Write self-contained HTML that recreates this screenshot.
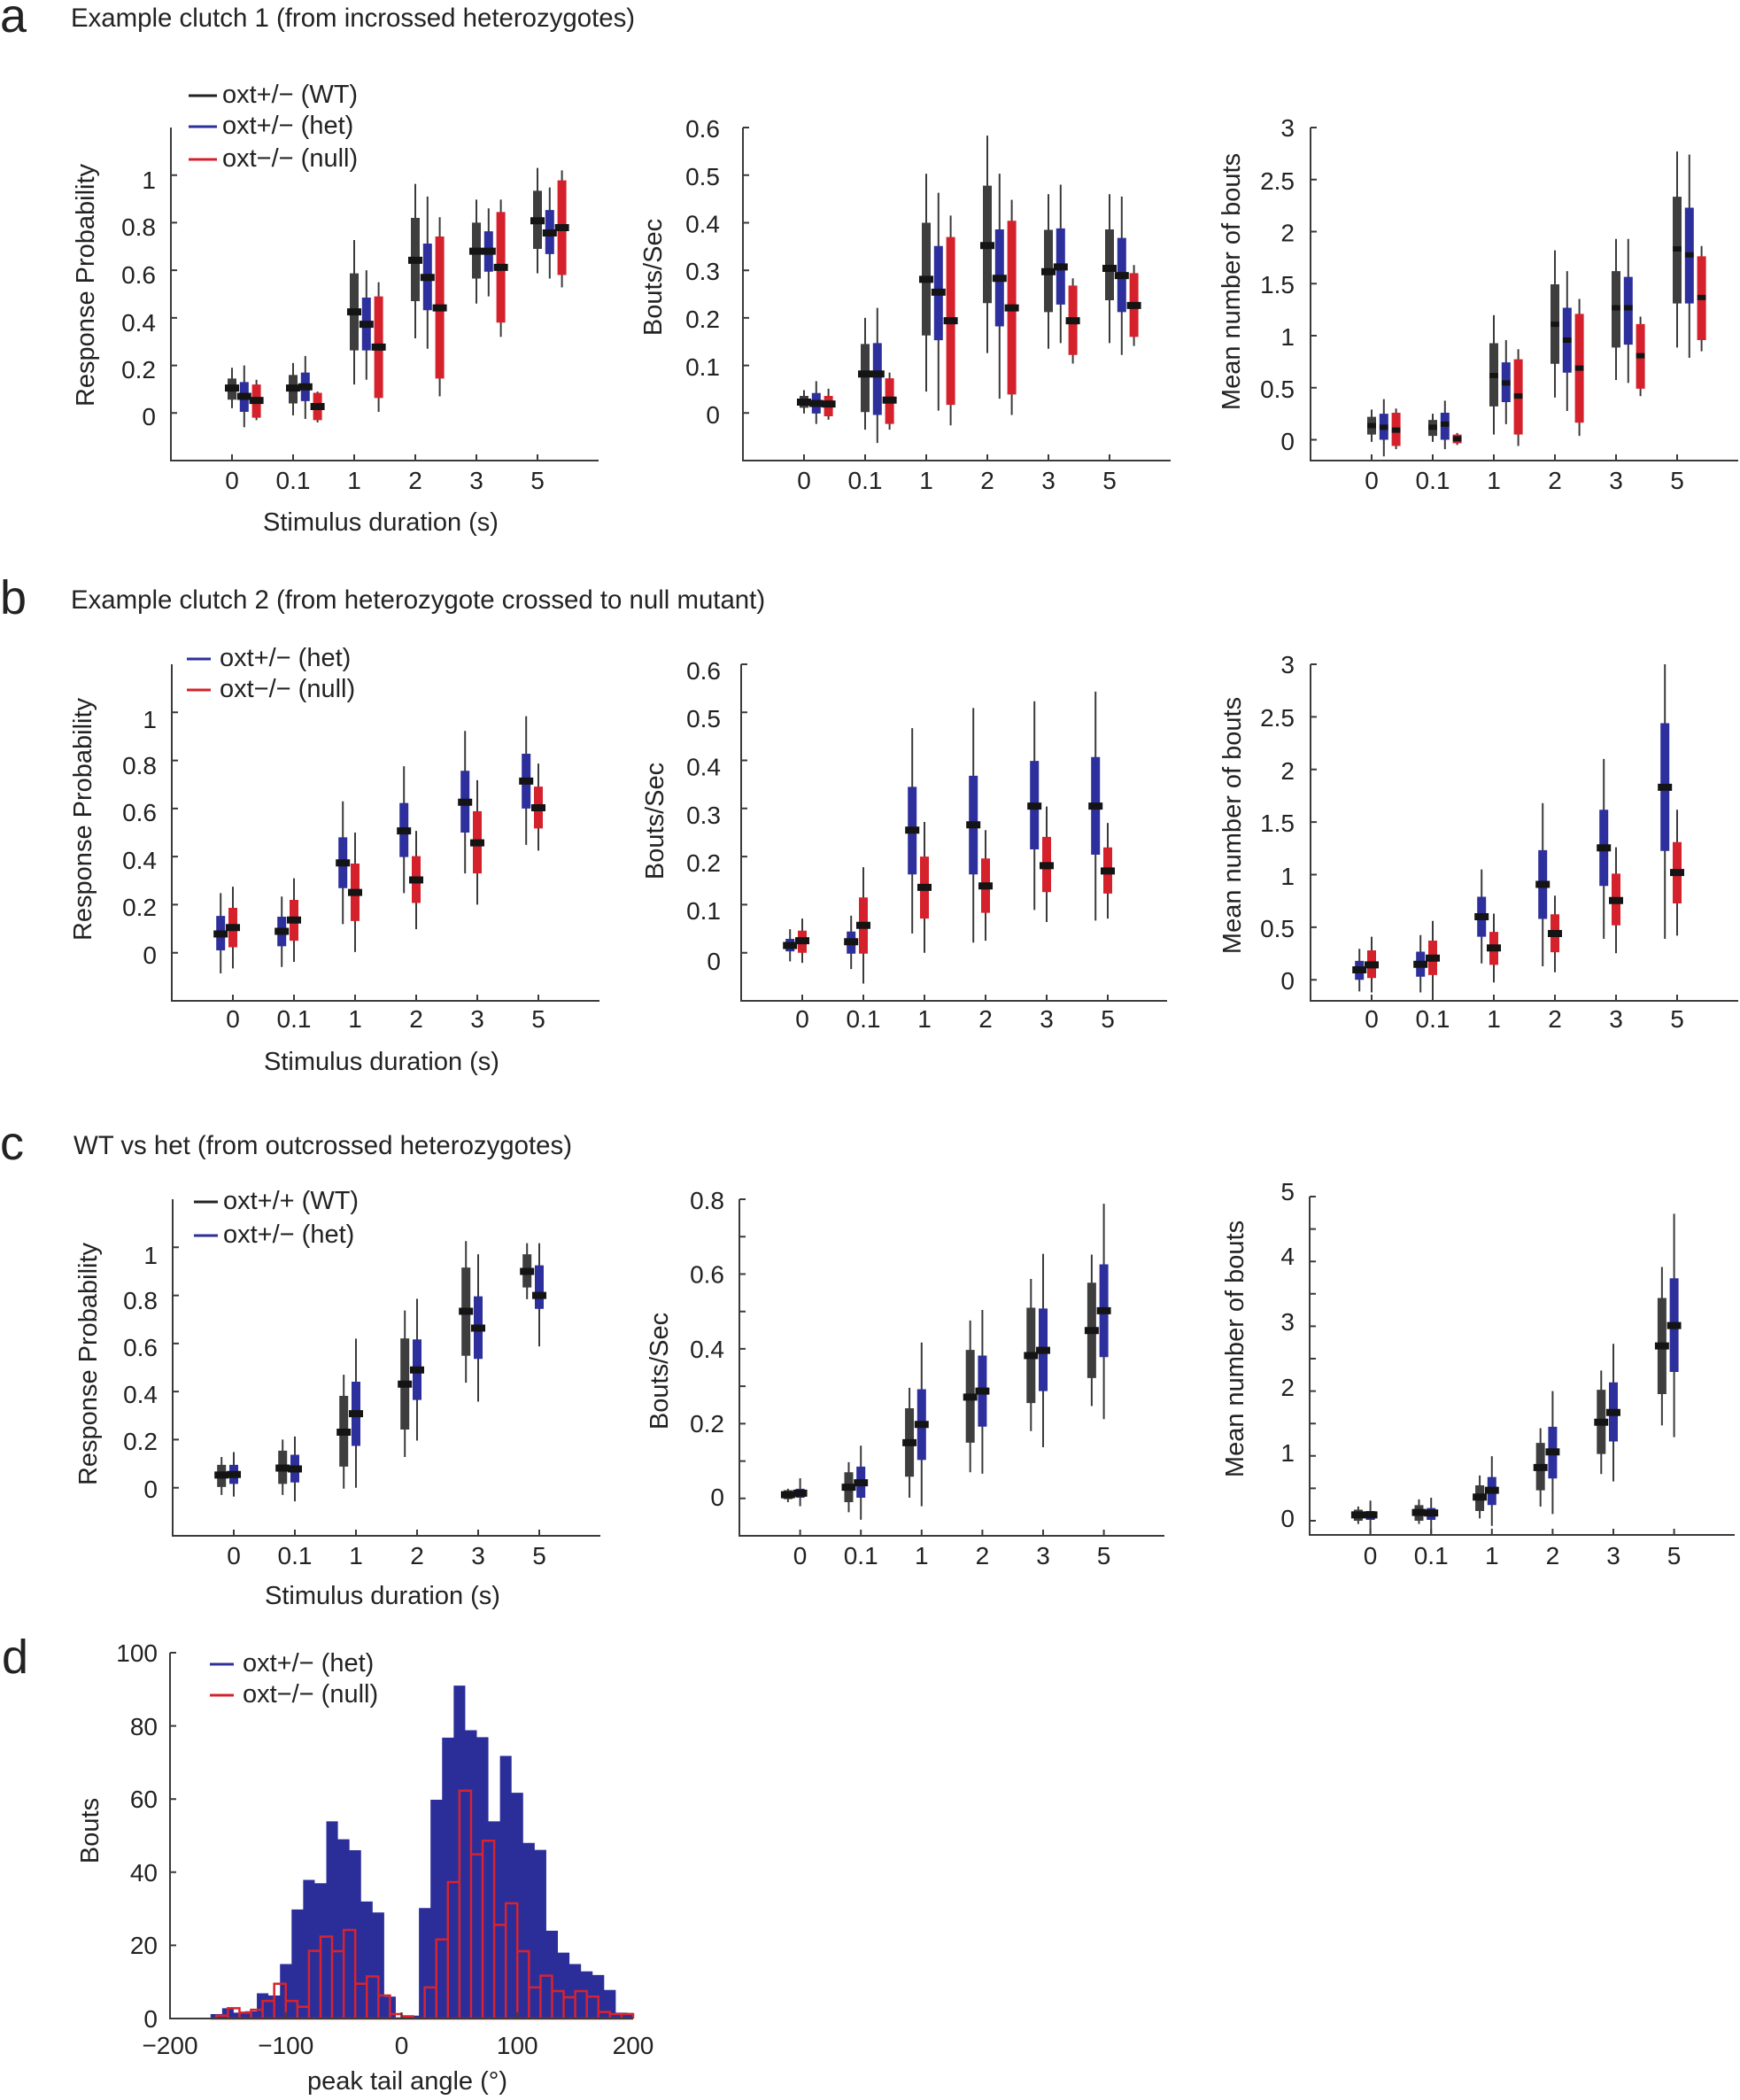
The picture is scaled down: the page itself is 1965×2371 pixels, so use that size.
<!DOCTYPE html>
<html><head><meta charset="utf-8"><style>
html,body{margin:0;padding:0;background:#fff;}
svg{display:block}
text{font-family:"Liberation Sans",Arial,sans-serif;fill:#222}
.t{font-size:29px}
.tt{font-size:29.4px}
.k{font-size:28px}
.ax{fill:none;stroke:#3a3a3a;stroke-width:2}
.dd path{vector-effect:non-scaling-stroke;fill:none}
.w{stroke:#3a3a3a;stroke-width:2}
.K{stroke:#3e3e3e;stroke-width:10}
.B{stroke:#2c2f9c;stroke-width:10}
.R{stroke:#d5212c;stroke-width:10}
.m{stroke:#141414;stroke-width:8}
.ms{stroke:#141414;stroke-width:6}
</style></head><body>
<svg width="1965" height="2371" viewBox="0 0 1965 2371" xmlns="http://www.w3.org/2000/svg">
<rect width="1965" height="2371" fill="#fff"/>

<!-- ================= PANEL A ================= -->
<text x="0" y="36" font-size="54">a</text>
<text class="tt" x="80" y="30">Example clutch 1 (from incrossed heterozygotes)</text>
<line x1="213" y1="108" x2="245" y2="108" stroke="#222" stroke-width="3"/>
<line x1="213" y1="143" x2="245" y2="143" stroke="#2c2f9c" stroke-width="3"/>
<line x1="213" y1="180" x2="245" y2="180" stroke="#d5212c" stroke-width="3"/>
<text class="t" x="251" y="116">oxt+/− (WT)</text>
<text class="t" x="251" y="151">oxt+/− (het)</text>
<text class="t" x="251" y="188">oxt−/− (null)</text>

<!-- aL -->
<g class="dd" transform="translate(193,466.3) scale(69,-268.6)">
<path class="w" d="M1 .02V.19M1.2 -.06V.2M1.4 -.03V.14M2 -.01V.21M2.2 -.025V.24M2.4 -.04V.09M3 .12V.727M3.2 .14V.6M3.4 .005V.55M4 .314V.963M4.2 .27V.91M4.4 .07V.823M5 .46V.897M5.2 .49V.86M5.4 .32V.897M6 .587V1.03M6.2 .565V.948M6.4 .528V1.02"/>
<path class="K" d="M1 .056V.145M2 .04V.16M3 .263V.587M4 .47V.82M5 .565V.8M6 .69V.934"/>
<path class="B" d="M1.2 .005V.13M2.2 .05V.17M3.2 .263V.485M4.2 .432V.712M5.2 .594V.764M6.2 .668V.853"/>
<path class="R" d="M1.4 -.02V.12M2.4 -.03V.085M3.4 .063V.49M4.4 .145V.742M5.4 .38V.845M6.4 .58V.978"/>
<path class="m" d="M.884 .105H1.116M1.084 .07H1.316M1.284 .053H1.516M1.884 .105H2.116M2.084 .11H2.316M2.284 .027H2.516M2.884 .425H3.116M3.084 .373H3.316M3.284 .277H3.516M3.884 .642H4.116M4.084 .57H4.316M4.284 .442H4.516M4.884 .68H5.116M5.084 .68H5.316M5.284 .612H5.516M5.884 .808H6.116M6.084 .757H6.316M6.284 .779H6.516"/>
</g>
<path class="ax" d="M193 144V520H676"/>
<path class="ax" d="M193 466.3h7M193 412.6h7M193 358.9h7M193 305.1h7M193 251.4h7M193 197.7h7M262 520v-7M331 520v-7M400 520v-7M469 520v-7M538 520v-7M607 520v-7"/>
<g class="k" text-anchor="end">
<text x="176" y="480">0</text><text x="176" y="427">0.2</text><text x="176" y="374">0.4</text><text x="176" y="320">0.6</text><text x="176" y="266">0.8</text><text x="176" y="213">1</text>
</g>
<g class="k" text-anchor="middle">
<text x="262" y="552">0</text><text x="331" y="552">0.1</text><text x="400" y="552">1</text><text x="469" y="552">2</text><text x="538" y="552">3</text><text x="607" y="552">5</text>
</g>
<text class="t" x="430" y="599" text-anchor="middle">Stimulus duration (s)</text>
<text class="t" transform="translate(106,322) rotate(-90)" text-anchor="middle">Response Probability</text>

<!-- aM -->
<g class="dd" transform="translate(839,466.3) scale(69,-537.1)">
<path class="w" d="M1 -.001V.048M1.2 -.023V.067M1.4 -.014V.051M2 -.035V.2M2.2 -.063V.221M2.4 -.035V.085M3 .045V.503M3.2 .005V.463M3.4 -.026V.415M4 .126V.583M4.2 .03V.503M4.4 -.004V.448M5 .135V.46M5.2 .147V.48M5.4 .104V.283M6 .147V.46M6.2 .122V.455M6.4 .141V.311"/>
<path class="K" d="M1 .011V.036M2 .002V.145M3 .163V.4M4 .231V.478M5 .212V.385M6 .237V.386"/>
<path class="B" d="M1.2 -.001V.042M2.2 -.004V.147M3.2 .153V.351M4.2 .182V.386M5.2 .228V.388M6.2 .212V.368"/>
<path class="R" d="M1.4 -.007V.036M2.4 -.023V.073M3.4 .017V.37M4.4 .039V.404M5.4 .122V.268M6.4 .16V.294"/>
<path class="m" d="M.884 .023H1.116M1.084 .02H1.316M1.284 .019H1.516M1.884 .082H2.116M2.084 .082H2.316M2.284 .027H2.516M2.884 .281H3.116M3.084 .254H3.316M3.284 .194H3.516M3.884 .352H4.116M4.084 .283H4.316M4.284 .221H4.516M4.884 .297H5.116M5.084 .307H5.316M5.284 .194H5.516M5.884 .304H6.116M6.084 .289H6.316M6.284 .226H6.516"/>
</g>
<path class="ax" d="M839 144V520H1322"/>
<path class="ax" d="M839 466.3h7M839 412.6h7M839 358.9h7M839 305.2h7M839 251.5h7M839 197.7h7M839 144h7M908 520v-7M977 520v-7M1046 520v-7M1115 520v-7M1184 520v-7M1253 520v-7"/>
<g class="k" text-anchor="end">
<text x="813" y="478">0</text><text x="813" y="424">0.1</text><text x="813" y="370">0.2</text><text x="813" y="316">0.3</text><text x="813" y="262.5">0.4</text><text x="813" y="209">0.5</text><text x="813" y="155">0.6</text>
</g>
<g class="k" text-anchor="middle">
<text x="908" y="552">0</text><text x="977" y="552">0.1</text><text x="1046" y="552">1</text><text x="1115" y="552">2</text><text x="1184" y="552">3</text><text x="1253" y="552">5</text>
</g>
<text class="t" transform="translate(747,313) rotate(-90)" text-anchor="middle">Bouts/Sec</text>

<!-- aR -->
<g class="dd" transform="translate(1480,496.5) scale(69,-117.5)">
<path class="w" d="M1 -.02V.29M1.2 -.16V.39M1.4 -.09V.3M2 -.02V.25M2.2 -.09V.376M2.4 -.05V.065M3 .05V1.197M3.2 .15V.957M3.4 -.06V.87M4 .405V1.82M4.2 .277V1.62M4.4 .037V1.353M5 .575V1.93M5.2 .546V1.93M5.4 .419V1.183M6 .886V2.77M6.2 .787V2.74M6.4 .85V1.862"/>
<path class="K" d="M1 .05V.22M2 .037V.19M3 .32V.928M4 .73V1.494M5 .886V1.62M6 1.31V2.335"/>
<path class="B" d="M1.2 0V.25M2.2 0V.26M3.2 .362V.744M4.2 .645V1.268M5.2 .914V1.565M6.2 1.31V2.23"/>
<path class="R" d="M1.4 -.06V.26M2.4 -.034V.05M3.4 .05V.773M4.4 .164V1.21M5.4 .49V1.112M6.4 .957V1.763"/>
<path class="ms" d="M.93 .136H1.07M1.13 .12H1.27M1.33 .093H1.47M1.93 .12H2.07M2.13 .15H2.27M2.33 .01H2.47M2.93 .617H3.07M3.13 .546H3.27M3.33 .42H3.47M3.93 1.11H4.07M4.13 .957H4.27M4.33 .688H4.47M4.93 1.268H5.07M5.13 1.268H5.27M5.33 .807H5.47M5.93 1.834H6.07M6.13 1.777H6.27M6.33 1.367H6.47"/>
</g>
<path class="ax" d="M1480 144V520H1963"/>
<path class="ax" d="M1480 496.5h7M1480 437.75h7M1480 379h7M1480 320.25h7M1480 261.5h7M1480 202.75h7M1480 144h7M1549 520v-7M1618 520v-7M1687 520v-7M1756 520v-7M1825 520v-7M1894 520v-7"/>
<g class="k" text-anchor="end">
<text x="1462" y="508">0</text><text x="1462" y="449">0.5</text><text x="1462" y="390">1</text><text x="1462" y="331">1.5</text><text x="1462" y="272.5">2</text><text x="1462" y="214">2.5</text><text x="1462" y="154">3</text>
</g>
<g class="k" text-anchor="middle">
<text x="1549" y="552">0</text><text x="1618" y="552">0.1</text><text x="1687" y="552">1</text><text x="1756" y="552">2</text><text x="1825" y="552">3</text><text x="1894" y="552">5</text>
</g>
<text class="t" transform="translate(1400,318) rotate(-90)" text-anchor="middle">Mean number of bouts</text>

<!-- ================= PANEL B ================= -->
<text x="0" y="693" font-size="54">b</text>
<text class="tt" x="80" y="687">Example clutch 2 (from heterozygote crossed to null mutant)</text>
<line x1="211" y1="744" x2="238" y2="744" stroke="#2c2f9c" stroke-width="3"/>
<line x1="211" y1="779" x2="238" y2="779" stroke="#d5212c" stroke-width="3"/>
<text class="t" x="248" y="752">oxt+/− (het)</text>
<text class="t" x="248" y="787">oxt−/− (null)</text>

<!-- bL -->
<g class="dd" transform="translate(194,1075.7) scale(69,-271.4)">
<path class="w" d="M.8 -.086V.248M1 -.065V.275M1.8 -.059V.234M2 -.038V.31M2.8 .119V.63M3 .003V.5M3.8 .248V.776M4 .098V.507M4.8 .33V.923M5 .2V.718M5.8 .449V.984M6 .425V.787"/>
<path class="B" d="M.8 .01V.153M1.8 .027V.15M2.8 .269V.48M3.8 .398V.623M4.8 .5V.757M5.8 .6V.828"/>
<path class="R" d="M1 .023V.187M2 .05V.22M3 .132V.371M4 .207V.402M5 .33V.589M6 .517V.691"/>
<path class="m" d="M.684 .078H.916M.884 .105H1.116M1.684 .089H1.916M1.884 .136H2.116M2.684 .374H2.916M2.884 .251H3.116M3.684 .507H3.916M3.884 .303H4.116M4.684 .626H4.916M4.884 .457H5.116M5.684 .714H5.916M5.884 .603H6.116"/>
</g>
<path class="ax" d="M194 750V1130H677"/>
<path class="ax" d="M194 1075.7h7M194 1021.4h7M194 967.1h7M194 912.9h7M194 858.6h7M194 804.3h7M263 1130v-7M332 1130v-7M401 1130v-7M470 1130v-7M539 1130v-7M608 1130v-7"/>
<g class="k" text-anchor="end">
<text x="177" y="1088">0</text><text x="177" y="1034">0.2</text><text x="177" y="981">0.4</text><text x="177" y="927">0.6</text><text x="177" y="874">0.8</text><text x="177" y="822">1</text>
</g>
<g class="k" text-anchor="middle">
<text x="263" y="1160">0</text><text x="332" y="1160">0.1</text><text x="401" y="1160">1</text><text x="470" y="1160">2</text><text x="539" y="1160">3</text><text x="608" y="1160">5</text>
</g>
<text class="t" x="431" y="1208" text-anchor="middle">Stimulus duration (s)</text>
<text class="t" transform="translate(103,925) rotate(-90)" text-anchor="middle">Response Probability</text>

<!-- bM -->
<g class="dd" transform="translate(837,1075.7) scale(69,-542.9)">
<path class="w" d="M.8 -.018V.049M1 -.021V.071M1.8 -.034V.077M2 -.064V.178M2.8 .04V.467M3 0V.272M3.8 .021V.509M4 .025V.255M4.8 .089V.523M5 .064V.304M5.8 .067V.543M6 .071V.27"/>
<path class="B" d="M.8 .003V.029M1.8 -.002V.044M2.8 .163V.345M3.8 .163V.368M4.8 .215V.399M5.8 .204V.407"/>
<path class="R" d="M1 0V.046M2 -.002V.115M3 .071V.2M4 .083V.196M5 .126V.241M6 .123V.219"/>
<path class="m" d="M.684 .015H.916M.884 .025H1.116M1.684 .023H1.916M1.884 .057H2.116M2.684 .255H2.916M2.884 .136H3.116M3.684 .266H3.916M3.884 .139H4.116M4.684 .305H4.916M4.884 .181H5.116M5.684 .305H5.916M5.884 .17H6.116"/>
</g>
<path class="ax" d="M837 750V1130H1318"/>
<path class="ax" d="M837 1075.7h7M837 1021.4h7M837 967.1h7M837 912.8h7M837 858.5h7M837 804.3h7M837 750h7M906 1130v-7M975 1130v-7M1044 1130v-7M1113 1130v-7M1182 1130v-7M1251 1130v-7"/>
<g class="k" text-anchor="end">
<text x="814" y="1095">0</text><text x="814" y="1038">0.1</text><text x="814" y="984">0.2</text><text x="814" y="930">0.3</text><text x="814" y="875.5">0.4</text><text x="814" y="821">0.5</text><text x="814" y="767">0.6</text>
</g>
<g class="k" text-anchor="middle">
<text x="906" y="1160">0</text><text x="975" y="1160">0.1</text><text x="1044" y="1160">1</text><text x="1113" y="1160">2</text><text x="1182" y="1160">3</text><text x="1251" y="1160">5</text>
</g>
<text class="t" transform="translate(749,927) rotate(-90)" text-anchor="middle">Bouts/Sec</text>

<!-- bR -->
<g class="dd" transform="translate(1480,1106.25) scale(69,-118.75)">
<path class="w" d="M.8 -.11V.295M1 -.12V.41M1.8 -.12V.425M2 -.15V.56M2.8 .156V1.05M3 -.025V.63M3.8 .128V1.68M4 .072V.8M4.8 .39V2.1M5 .253V1.26M5.8 .39V3M6 .42V1.617"/>
<path class="B" d="M.8 0V.18M1.8 .03V.267M2.8 .41V.79M3.8 .579V1.233M4.8 .893V1.617M5.8 1.225V2.44"/>
<path class="R" d="M1 .017V.28M2 .045V.373M3 .142V.456M4 .262V.623M5 .518V1.01M6 .726V1.31"/>
<path class="m" d="M.684 .095H.916M.884 .142H1.116M1.684 .147H1.916M1.884 .206H2.116M2.684 .6H2.916M2.884 .303H3.116M3.684 .907H3.916M3.884 .44H4.116M4.684 1.255H4.916M4.884 .754H5.116M5.684 1.831H5.916M5.884 1.02H6.116"/>
</g>
<path class="ax" d="M1480 750V1130H1963"/>
<path class="ax" d="M1480 1106.25h7M1480 1046.9h7M1480 987.5h7M1480 928.1h7M1480 868.75h7M1480 809.4h7M1480 750h7M1549 1130v-7M1618 1130v-7M1687 1130v-7M1756 1130v-7M1825 1130v-7M1894 1130v-7"/>
<g class="k" text-anchor="end">
<text x="1462" y="1117">0</text><text x="1462" y="1058">0.5</text><text x="1462" y="999">1</text><text x="1462" y="939">1.5</text><text x="1462" y="880">2</text><text x="1462" y="820">2.5</text><text x="1462" y="760">3</text>
</g>
<g class="k" text-anchor="middle">
<text x="1549" y="1160">0</text><text x="1618" y="1160">0.1</text><text x="1687" y="1160">1</text><text x="1756" y="1160">2</text><text x="1825" y="1160">3</text><text x="1894" y="1160">5</text>
</g>
<text class="t" transform="translate(1401,932) rotate(-90)" text-anchor="middle">Mean number of bouts</text>

<!-- ================= PANEL C ================= -->
<text x="0" y="1309" font-size="54">c</text>
<text class="tt" x="83" y="1303">WT vs het (from outcrossed heterozygotes)</text>
<line x1="219" y1="1357" x2="246" y2="1357" stroke="#222" stroke-width="3"/>
<line x1="219" y1="1395" x2="246" y2="1395" stroke="#2c2f9c" stroke-width="3"/>
<text class="t" x="252" y="1365">oxt+/+ (WT)</text>
<text class="t" x="252" y="1403">oxt+/− (het)</text>

<!-- cL -->
<g class="dd" transform="translate(195,1679.7) scale(69,-271.4)">
<path class="w" d="M.8 -.03V.128M1 -.037V.148M1.8 -.03V.2M2 -.057V.213M2.8 -.004V.47M3 0V.62M3.8 .128V.737M4 .196V.786M4.8 .437V1.026M5 .358V.971M5.8 .784V1.017M6 .588V1.017"/>
<path class="K" d="M.8 .003V.095M1.8 .016V.154M2.8 .088V.382M3.8 .242V.621M4.8 .549V.916M5.8 .833V.971"/>
<path class="B" d="M1 .016V.095M2 .022V.137M3 .174V.441M4 .365V.617M5 .536V.796M6 .744V.925"/>
<path class="m" d="M.684 .053H.916M.884 .055H1.116M1.684 .082H1.916M1.884 .078H2.116M2.684 .231H2.916M2.884 .308H3.116M3.684 .431H3.916M3.884 .49H4.116M4.684 .734H4.916M4.884 .664H5.116M5.684 .9H5.916M5.884 .8H6.116"/>
</g>
<path class="ax" d="M195 1354V1734H678"/>
<path class="ax" d="M195 1679.7h7M195 1625.4h7M195 1571.1h7M195 1516.9h7M195 1462.6h7M195 1408.3h7M264 1734v-7M333 1734v-7M402 1734v-7M471 1734v-7M540 1734v-7M609 1734v-7"/>
<g class="k" text-anchor="end">
<text x="178" y="1691">0</text><text x="178" y="1637">0.2</text><text x="178" y="1584">0.4</text><text x="178" y="1531">0.6</text><text x="178" y="1478">0.8</text><text x="178" y="1427">1</text>
</g>
<g class="k" text-anchor="middle">
<text x="264" y="1766">0</text><text x="333" y="1766">0.1</text><text x="402" y="1766">1</text><text x="471" y="1766">2</text><text x="540" y="1766">3</text><text x="609" y="1766">5</text>
</g>
<text class="t" x="432" y="1811" text-anchor="middle">Stimulus duration (s)</text>
<text class="t" transform="translate(109,1540) rotate(-90)" text-anchor="middle">Response Probability</text>

<!-- cM -->
<g class="dd" transform="translate(835,1691.8) scale(68.6,-422.2)">
<path class="w" d="M.8 -.01V.026M1 -.021V.054M1.8 -.037V.097M2 -.057V.141M2.8 .002V.296M3 -.021V.417M3.8 .07V.476M4 .066V.504M4.8 .18V.587M5 .137V.654M5.8 .247V.652M6 .212V.788"/>
<path class="K" d="M.8 -.002V.022M1.8 -.01V.07M2.8 .058V.241M3.8 .149V.397M4.8 .255V.51M5.8 .322V.577"/>
<path class="B" d="M1 .002V.026M2 .002V.085M3 .103V.292M4 .192V.382M5 .287V.508M6 .378V.626"/>
<path class="m" d="M.684 .01H.916M.884 .014H1.116M1.684 .03H1.916M1.884 .042H2.116M2.684 .149H2.916M2.884 .198H3.116M3.684 .271H3.916M3.884 .287H4.116M4.684 .382H4.916M4.884 .396H5.116M5.684 .449H5.916M5.884 .502H6.116"/>
</g>
<path class="ax" d="M835 1354V1734H1315"/>
<path class="ax" d="M835 1691.8h7M835 1649.6h7M835 1607.4h7M835 1565.1h7M835 1522.9h7M835 1480.7h7M835 1438.5h7M835 1396.3h7M835 1354h7M903.6 1734v-7M972.2 1734v-7M1040.8 1734v-7M1109.4 1734v-7M1178 1734v-7M1246.6 1734v-7"/>
<g class="k" text-anchor="end">
<text x="818" y="1700">0</text><text x="818" y="1617">0.2</text><text x="818" y="1533">0.4</text><text x="818" y="1448.5">0.6</text><text x="818" y="1365">0.8</text>
</g>
<g class="k" text-anchor="middle">
<text x="903.6" y="1766">0</text><text x="972.2" y="1766">0.1</text><text x="1040.8" y="1766">1</text><text x="1109.4" y="1766">2</text><text x="1178" y="1766">3</text><text x="1246.6" y="1766">5</text>
</g>
<text class="t" transform="translate(754,1548) rotate(-90)" text-anchor="middle">Bouts/Sec</text>

<!-- cR -->
<g class="dd" transform="translate(1479,1717) scale(68.6,-73.2)">
<path class="w" d="M.8 -.05V.22M1 -.21V.31M1.8 -.05V.33M2 -.21V.356M2.8 .036V.698M3 -.078V.995M3.8 .219V1.428M4 .105V2M4.8 .72V2.317M5 .606V2.728M5.8 1.47V3.914M6 1.29V4.735"/>
<path class="K" d="M.8 0V.17M1.8 0V.24M2.8 .15V.547M3.8 .47V1.2M4.8 1.03V2.02M5.8 1.953V3.435"/>
<path class="B" d="M1 .014V.15M2 .014V.196M3 .242V.675M4 .652V1.45M5 1.223V2.135M6 2.295V3.74"/>
<path class="m" d="M.684 .09H.916M.884 .09H1.116M1.684 .128H1.916M1.884 .119H2.116M2.684 .365H2.916M2.884 .47H3.116M3.684 .821H3.916M3.884 1.063H4.116M4.684 1.52H4.916M4.884 1.67H5.116M5.684 2.696H5.916M5.884 3.01H6.116"/>
</g>
<path class="ax" d="M1479 1351V1733H1959"/>
<path class="ax" d="M1479 1717h7M1479 1680.4h7M1479 1643.8h7M1479 1607.2h7M1479 1570.6h7M1479 1534h7M1479 1497.4h7M1479 1460.8h7M1479 1424.2h7M1479 1387.6h7M1479 1351h7M1547.6 1733v-7M1616.2 1733v-7M1684.8 1733v-7M1753.4 1733v-7M1822 1733v-7M1890.6 1733v-7"/>
<g class="k" text-anchor="end">
<text x="1462" y="1724">0</text><text x="1462" y="1650">1</text><text x="1462" y="1576">2</text><text x="1462" y="1502">3</text><text x="1462" y="1428">4</text><text x="1462" y="1355">5</text>
</g>
<g class="k" text-anchor="middle">
<text x="1547.6" y="1766">0</text><text x="1616.2" y="1766">0.1</text><text x="1684.8" y="1766">1</text><text x="1753.4" y="1766">2</text><text x="1822" y="1766">3</text><text x="1890.6" y="1766">5</text>
</g>
<text class="t" transform="translate(1404,1523) rotate(-90)" text-anchor="middle">Mean number of bouts</text>

<!-- ================= PANEL D ================= -->
<text x="2" y="1889" font-size="54">d</text>
<g transform="translate(453.5,2279) scale(1.3075,-4.13)">
<path fill="#2b2e99" d="M-165 0V1.2H-155V2.8H-145V1.6H-135V2H-125V6.9H-115V6.3H-105V14.9H-95V29.8H-85V37.9H-75V37H-65V53.9H-55V49H-45V46H-35V32H-25V29H-15V6H-5V0.3H5V0.8H15V30.2H25V59.8H35V76.8H45V91H55V78.8H65V76.9H75V53.9H85V71.8H95V61.7H105V48H115V46.1H125V24H135V18H145V14.9H155V12.9H165V11.9H175V7.8H185V1.6H195V1.5H200V0Z"/>
<path fill="none" stroke="#d8232e" stroke-width="2.5" vector-effect="non-scaling-stroke" d="M-165 0H200M-160 0V0.8H-150V0M-150 0V2.8H-140V0M-140 0V1.6H-130V0M-130 0V2.4H-120V0M-120 0V4.8H-110V0M-110 0V9.5H-100V0M-100 0V4.8H-90V0M-90 0V3.2H-80V0M-80 0V18.5H-70V0M-70 0V22.4H-60V0M-60 0V18.4H-50V0M-50 0V24.2H-40V0M-40 0V9.5H-30V0M-30 0V11.5H-20V0M-20 0V6.3H-10V0M-10 0V1.2H0V0M0 0V0.6H10V0M20 0V8.5H30V0M30 0V21.6H40V0M40 0V37.3H50V0M50 0V62.3H60V0M60 0V44.9H70V0M70 0V48.6H80V0M80 0V25.6H90V0M90 0V31.5H100V0M100 0V18.4H110V0M110 0V8.5H120V0M120 0V11.7H130V0M130 0V7.5H140V0M140 0V5.8H150V0M150 0V7.5H160V0M160 0V6H170V0M170 0V1.8H180V0M180 0V1.2H190V0M190 0V1.2H200V0"/>
</g>
<path class="ax" d="M192 1866V2279H715"/>
<path class="ax" d="M192 2196.4h7M192 2113.8h7M192 2031.2h7M192 1948.6h7M192 1866h7M322.75 2279v-7M453.5 2279v-7M584.25 2279v-7"/>
<line x1="237" y1="1879" x2="264" y2="1879" stroke="#2c2f9c" stroke-width="3"/>
<line x1="237" y1="1914" x2="264" y2="1914" stroke="#d5212c" stroke-width="3"/>
<text class="t" x="274" y="1887">oxt+/− (het)</text>
<text class="t" x="274" y="1922">oxt−/− (null)</text>
<g class="k" text-anchor="end">
<text x="178" y="2289">0</text><text x="178" y="2206">20</text><text x="178" y="2124">40</text><text x="178" y="2041">60</text><text x="178" y="1959">80</text><text x="178" y="1876">100</text>
</g>
<g class="k" text-anchor="middle">
<text x="192" y="2319">−200</text><text x="322.75" y="2319">−100</text><text x="453.5" y="2319">0</text><text x="584.25" y="2319">100</text><text x="715" y="2319">200</text>
</g>
<text class="t" x="460" y="2359" text-anchor="middle">peak tail angle (°)</text>
<text class="t" transform="translate(111,2067) rotate(-90)" text-anchor="middle">Bouts</text>
</svg>
</body></html>
